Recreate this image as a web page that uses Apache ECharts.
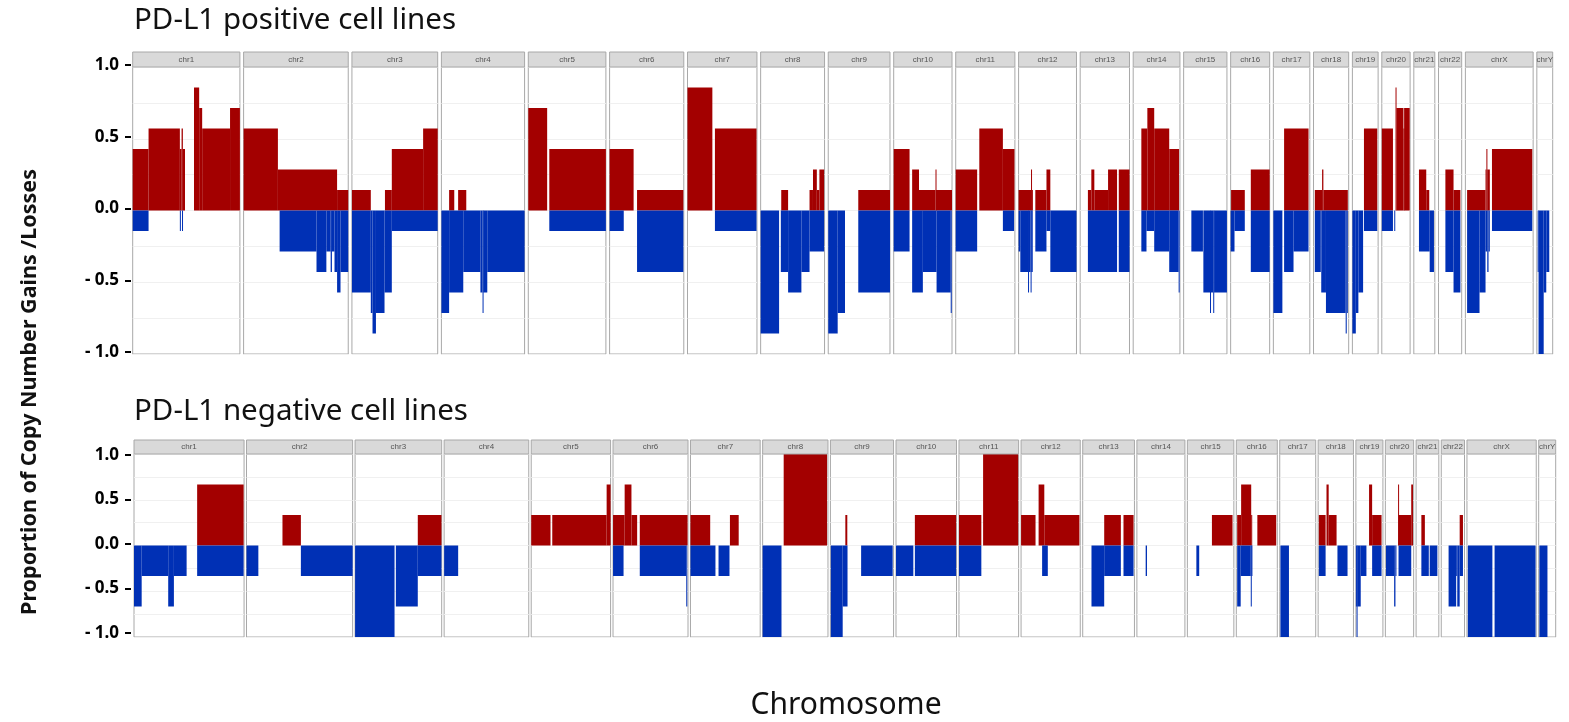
<!DOCTYPE html>
<html><head><meta charset="utf-8">
<script src="https://cdn.jsdelivr.net/npm/echarts@6/dist/echarts.min.js"></script>
<style>html,body{margin:0;padding:0;background:#fff}#c{width:1569px;height:722px}</style>
</head><body><div id="c"></div>
<script>
// ---------------- DATA ----------------
const chromosomes = ['chr1','chr2','chr3','chr4','chr5','chr6','chr7','chr8','chr9','chr10','chr11','chr12',
  'chr13','chr14','chr15','chr16','chr17','chr18','chr19','chr20','chr21','chr22','chrX','chrY'];
const yTicks = [-1, -0.5, 0, 0.5, 1];

// number of cell lines per group (values below are counts of lines with the event)
const nPositive = 7;
const nNegative = 3;

// facet x-range (Mb) of each chromosome panel
const spanPositive = [250,244,200,194,181,173,162,149,144,136,138,135,115,109,101,91,85,82,60,66,49,54,158,37];
const spanNegative = [251,242,197.5,193,181,171,159,149,144,138,136,135,118,109.5,106,93.5,82,80.5,61.6,64.5,51.8,53,158,38.8];

// segments: [start Mb, end Mb, count]
const gainsPositive = [
  [[0,37,3],[37,110,4],[110,114,3],[114,117,4],[117,122,3],[143,155,6],[155,162,5],[162,227,4],[227,250,5]],
  [[0,80,4],[80,218,2],[218,244,1]],
  [[0,44,1],[77,93,1],[93,166,3],[166,200,4]],
  [[18,30,1],[39,58,1]],
  [[0,44,5],[49,181,3]],
  [[0,56,3],[64,172,1]],
  [[0,58,6],[64,161,4]],
  [[48,64,1],[114,122,1],[122,131,2],[131,137,1],[137,148,2]],
  [[70,144,1]],
  [[0,37,3],[43,59,2],[59,97.5,1],[97.5,98.5,2],[98.5,136,1]],
  [[0,50,2],[55,110,4],[110,137,3]],
  [[0,29,1],[29,31,2],[31,33,1],[39,65,1],[65,74,2]],
  [[18,26,1],[26,33,2],[33,65,1],[65,86,2],[90,115,2]],
  [[19,33,4],[33,49,5],[49,84,4],[84,107,3]],
  [],
  [[1,33,1],[47,91,2]],
  [[25,82,4]],
  [[3,20,1],[20,23,2],[23,80,1]],
  [[27,58,4]],
  [[0,26,4],[32,34,6],[34,50.5,5],[50.5,52,4],[52,65,5]],
  [[12,29,2],[29,36,1]],
  [[16,35,2],[35,51,1]],
  [[4,47,1],[47,49,2],[49,51,3],[51,57,2],[62,156,3]],
  []
];
const lossesPositive = [
  [[0,37,1],[110,112,1],[115,117,1]],
  [[84,170,2],[170,193,3],[193,203,2],[203,206,3],[206,212,2],[212,218,3],[218,226,4],[226,244,3]],
  [[0,44,4],[44,48,5],[48,56,6],[56,76,5],[76,93,4],[93,200,1]],
  [[0,18,5],[18,51,4],[51,91,3],[91,96,4],[96,97.5,5],[97.5,107,4],[107,194,3]],
  [[49,181,1]],
  [[0,33,1],[64,172,3]],
  [[64,161,1]],
  [[0,43,6],[47,64,3],[64,95,4],[95,114,3],[114,148,2]],
  [[0,22,6],[22,39,5],[70,144,4]],
  [[0,37,2],[43,68,4],[68,100,3],[100,133,4],[133,135,5]],
  [[0,50,2],[110,136,1]],
  [[0,4,2],[4,22,3],[22,23.5,4],[23.5,28,3],[28,29.5,4],[29.5,33,3],[39,65,2],[65,74,1],[74,135,3]],
  [[18,86,3],[90,115,3]],
  [[19,31,2],[31,49,1],[49,84,2],[84,106,3],[106,107.5,4]],
  [[18,45,2],[46,61.5,4],[61.5,63,5],[63,69,4],[69,71,5],[71,101,4]],
  [[0,9,2],[9,33,1],[47,91,3]],
  [[0,21,5],[25,47,3],[47,82,2]],
  [[3,17,3],[18,29,4],[29,75,5],[75,77.5,6],[77.5,80,5]],
  [[0,8,6],[8,14,5],[14,25,4],[27,58,1]],
  [[0,26,1],[29,31,1]],
  [[12,37,2],[37,47,3]],
  [[16,35,3],[35,51,4]],
  [[4,33,5],[33,47,4],[47,51,2],[51,54,3],[54,57,2],[62,156,1]],
  [[2,4,3],[4,16,7],[16,22,4],[22,29,3]]
];
const gainsNegative = [
  [[144,250,2]],
  [[82,124,1]],
  [[143,197,1]],
  [],
  [[0,44,1],[48,172,1],[172,181,2]],
  [[0,26.5,1],[26.5,42,2],[42,55,1],[61,170,1]],
  [[0,45,1],[90,110,1]],
  [[48,147,3]],
  [[34,38.5,1]],
  [[43,137,1]],
  [[0,51,1],[55,135,3]],
  [[0,33,1],[40,53,2],[53,133,1]],
  [[49,87,1],[93,116,1]],
  [],
  [[56,103,1]],
  [[2,11,1],[11,34,2],[34,36,1],[48,91,1]],
  [],
  [[1.5,17,1],[19,24,2],[24,42,1]],
  [[30,37,2],[37,58.5,1]],
  [[29,30,2],[30,59,1],[59,63,2]],
  [[12,20,1]],
  [[42,49.5,1]],
  [],
  []
];
const lossesNegative = [
  [[0,17.5,2],[17.5,78,1],[78,91,2],[91,120,1],[144,250,1]],
  [[0,27,1],[124,242,1]],
  [[0,90,3],[93,143,2],[143,197,1]],
  [[0,32,1]],
  [],
  [[0,24,1],[61,167,1],[167,169,2]],
  [[0,57,1],[64,89,1]],
  [[0,43,3]],
  [[1,28,3],[28,39,2],[70,142,1]],
  [[0,39.5,1],[43,137,1]],
  [[0,51,1]],
  [[48,61,1]],
  [[20,49,2],[49,87,1],[93,116,1]],
  [[20,23,1]],
  [[20.5,27,1]],
  [[2,10,2],[10,33,1],[33,34.5,2],[34.5,36,1]],
  [[1.5,21,3]],
  [[1.5,17,1],[44,67,1]],
  [[0,1.5,2],[1.5,3,3],[3,11,2],[11,24,1],[37,58.5,1]],
  [[1.5,20,1],[20,23,2],[23,24,1],[30,59,1]],
  [[12,29,1],[31,48.5,1]],
  [[16.7,34,2],[34,36.5,1],[36.5,42,2],[42,49.5,1]],
  [[2,58,3],[63,156.5,3]],
  [[1.5,20,3]]
];

// ---------------- LAYOUT / STYLE ----------------
const RED = '#a30000', BLUE = '#0030b5';
const panels = [
  {title:'PD-L1 positive cell lines', titleY:21, spans:spanPositive, gains:gainsPositive, losses:lossesPositive, n:nPositive,
   x0:132.7, x1:1552.7, gap:3.7, top:67, height:287, strip:15, tickTop:65, tickHeight:287},
  {title:'PD-L1 negative cell lines', titleY:412, spans:spanNegative, gains:gainsNegative, losses:lossesNegative, n:nNegative,
   x0:134, x1:1555.7, gap:2.45, top:454, height:183, strip:14, tickTop:455, tickHeight:178}
];

const grid = [], xAxis = [], yAxis = [], series = [], graphic = [];
const fmt = v => (v < 0 ? '- ' + (-v).toFixed(1) : v.toFixed(1));

panels.forEach((p) => {
  const total = p.spans.reduce((a, b) => a + b, 0);
  const k = (p.x1 - p.x0 - p.gap * (p.spans.length - 1)) / total;
  let left = p.x0;
  p.spans.forEach((span, i) => {
    const w = span * k;
    const gi = grid.length;
    grid.push({left: left, top: p.top, width: w, height: p.height, show: true,
      backgroundColor: '#fff', borderColor: '#a8a8a8', borderWidth: 1});
    xAxis.push({gridIndex: gi, type: 'value', min: 0, max: span, show: false});
    yAxis.push({gridIndex: gi, type: 'value', min: -1, max: 1, interval: 0.25,
      axisLabel: {show: false}, axisTick: {show: false}, axisLine: {show: false},
      splitLine: {show: true, lineStyle: {color: '#f0f0f0', width: 1}}});
    const data = p.gains[i].map(s => [s[0], s[1], s[2] / p.n, 0])
      .concat(p.losses[i].map(s => [s[0], s[1], -s[2] / p.n, 1]));
    series.push({
      type: 'custom', xAxisIndex: gi, yAxisIndex: gi, clip: true, silent: true,
      encode: {x: [0, 1], y: 2},
      data: data,
      renderItem: (params, api) => {
        const a = api.coord([api.value(0), 0]);
        const b = api.coord([api.value(1), api.value(2)]);
        const w2 = Math.max(b[0] - a[0], 1);
        return {type: 'rect',
          shape: {x: a[0], y: Math.min(a[1], b[1]), width: w2, height: Math.abs(b[1] - a[1])},
          style: {fill: api.value(3) === 0 ? RED : BLUE}};
      }
    });
    // strip
    graphic.push({type: 'rect', silent: true, z: 10,
      shape: {x: left, y: p.top - p.strip, width: w, height: p.strip},
      style: {fill: '#d9d9d9', stroke: '#a8a8a8', lineWidth: 1}});
    graphic.push({type: 'text', silent: true, z: 11,
      style: {text: chromosomes[i], x: left + w / 2, y: p.top - p.strip / 2, align: 'center', verticalAlign: 'middle',
        fontSize: 8, fontFamily: 'Liberation Sans', fill: '#555'}});
    left += w + p.gap;
  });
  // tick-label axis for this panel
  const gi = grid.length;
  grid.push({left: 131, top: p.tickTop, width: 1, height: p.tickHeight, show: false});
  xAxis.push({gridIndex: gi, type: 'value', min: 0, max: 1, show: false});
  yAxis.push({gridIndex: gi, type: 'value', min: yTicks[0], max: yTicks[yTicks.length - 1], interval: 0.5,
    axisLine: {show: false}, splitLine: {show: false},
    axisTick: {show: true, length: 6, lineStyle: {color: '#000', width: 2}},
    axisLabel: {show: true, margin: 12, fontSize: 17, fontWeight: 'bold', color: '#000',
      fontFamily: 'Noto Sans', formatter: fmt}});
  graphic.push({type: 'text', silent: true,
    style: {text: p.title, x: 134, y: p.titleY, align: 'left', verticalAlign: 'middle',
      fontSize: 29.5, fontFamily: 'Noto Sans', fill: '#111'}});
});

graphic.push({type: 'text', silent: true, rotation: Math.PI / 2, x: 30, y: 392,
  style: {text: 'Proportion of Copy Number Gains /Losses', x: 0, y: 0, align: 'center', verticalAlign: 'middle',
    fontSize: 21.5, fontWeight: 'bold', fontFamily: 'Noto Sans', fill: '#111'}});
graphic.push({type: 'text', silent: true,
  style: {text: 'Chromosome', x: 846, y: 705, align: 'center', verticalAlign: 'middle',
    fontSize: 30, fontFamily: 'Noto Sans', fill: '#111'}});

const chart = echarts.init(document.getElementById('c'), null, {renderer: 'canvas'});
chart.setOption({animation: false, backgroundColor: '#fff', grid, xAxis, yAxis, series, graphic});
</script></body></html>
